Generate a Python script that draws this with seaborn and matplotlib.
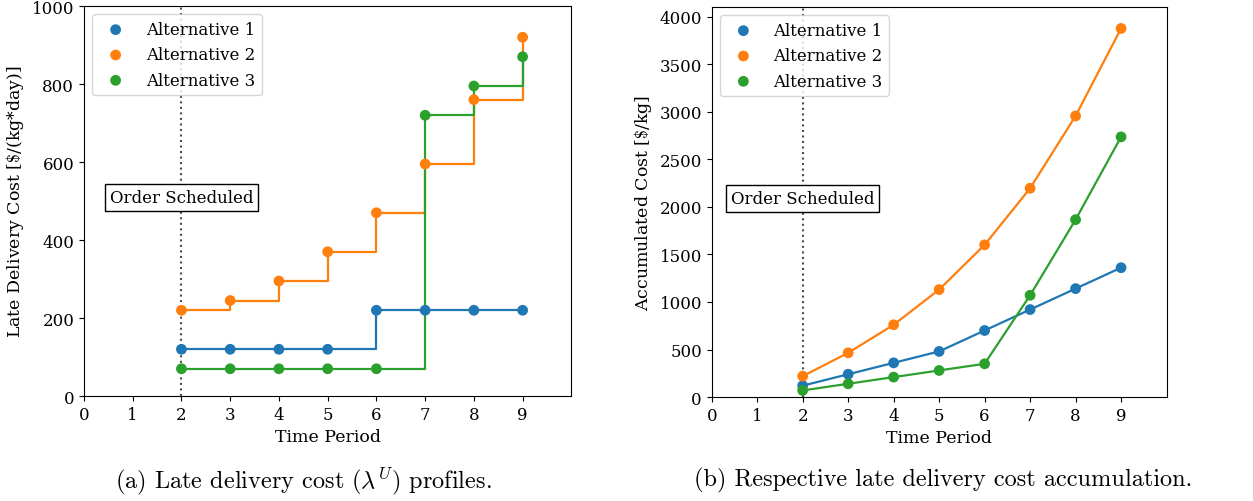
"""Late delivery cost profiles and their accumulation for three alternatives."""

import matplotlib.pyplot as plt
import matplotlib.transforms as mtransforms
import numpy as np
import pandas as pd
import seaborn as sns

periods = [2, 3, 4, 5, 6, 7, 8, 9]
alternatives = ["Alternative 1", "Alternative 2", "Alternative 3"]

cost_alt1 = [120, 120, 120, 120, 220, 220, 220, 220]
cost_alt2 = [220, 245, 295, 370, 470, 595, 760, 920]
cost_alt3 = [70, 70, 70, 70, 70, 720, 795, 870]

accum_alt1 = [120, 240, 360, 480, 700, 920, 1140, 1360]
accum_alt2 = [220, 465, 760, 1130, 1600, 2195, 2955, 3875]
accum_alt3 = [70, 140, 210, 280, 350, 1070, 1865, 2735]

order_period = 2
x_ticks = list(range(0, 10))

sns.set_style("ticks")
plt.rcParams.update({
    "font.family": ["DejaVu Serif"],
    "mathtext.fontset": "cm",
    "font.size": 12,
    "axes.labelsize": 12.5,
    "xtick.labelsize": 12,
    "ytick.labelsize": 12,
    "legend.fontsize": 12,
    "axes.edgecolor": "black",
    "xtick.color": "black",
    "ytick.color": "black",
    "text.color": "black",
    "axes.labelcolor": "black",
})

palette = sns.color_palette("tab10", 3)


def long_frame(series):
    return pd.DataFrame({
        "period": np.tile(periods, len(series)),
        "value": np.concatenate(series),
        "alt": np.repeat(alternatives, len(periods)),
    })


cost_df = long_frame([cost_alt1, cost_alt2, cost_alt3])
accum_df = long_frame([accum_alt1, accum_alt2, accum_alt3])

fig = plt.figure(figsize=(12.53, 5.02), dpi=100)
ax_a = fig.add_axes([0.067, 0.209, 0.389, 0.777])
ax_b = fig.add_axes([0.568, 0.207, 0.363, 0.777])


def draw_panel(ax, df, drawstyle, y_label, y_max, y_ticks):
    ax.axvline(order_period, color="0.3", linestyle=":", linewidth=1.5, zorder=0.5)
    for alt, color in zip(alternatives, palette):
        sub = df[df["alt"] == alt]
        sns.lineplot(data=sub, x="period", y="value", color=color, linewidth=1.6,
                     drawstyle=drawstyle, ax=ax, legend=False)
        sns.scatterplot(data=sub, x="period", y="value", color=color, s=60,
                        edgecolor="none", label=alt, ax=ax, zorder=3)
    ax.set_xlim(0, 10)
    ax.set_xticks(x_ticks)
    ax.set_ylim(0, y_max)
    ax.set_yticks(y_ticks)
    ax.set_xlabel("Time Period")
    ax.set_ylabel(y_label)
    trans = mtransforms.blended_transform_factory(ax.transData, ax.transAxes)
    ax.text(order_period, 0.51, "Order Scheduled", transform=trans, ha="center",
            va="center", zorder=4,
            bbox=dict(boxstyle="square", facecolor="white", edgecolor="black"))
    ax.legend(loc="upper left", frameon=True)
    for side in ["top", "right"]:
        ax.spines[side].set_visible(True)


draw_panel(ax_a, cost_df, "steps-post", "Late Delivery Cost [$\\$$/(kg*day)]",
           1000, range(0, 1001, 200))
draw_panel(ax_b, accum_df, "default", "Accumulated Cost [$\\$$/kg]",
           4100, range(0, 4001, 500))

fig.text(0.242, 0.042, "(a) Late delivery cost ($\\lambda^U$) profiles.",
         ha="center", va="center", fontsize=17.5, family="cmr10")
fig.text(0.7526, 0.042, "(b) Respective late delivery cost accumulation.",
         ha="center", va="center", fontsize=17.5, family="cmr10")

fig.savefig("out.png", dpi=100)
